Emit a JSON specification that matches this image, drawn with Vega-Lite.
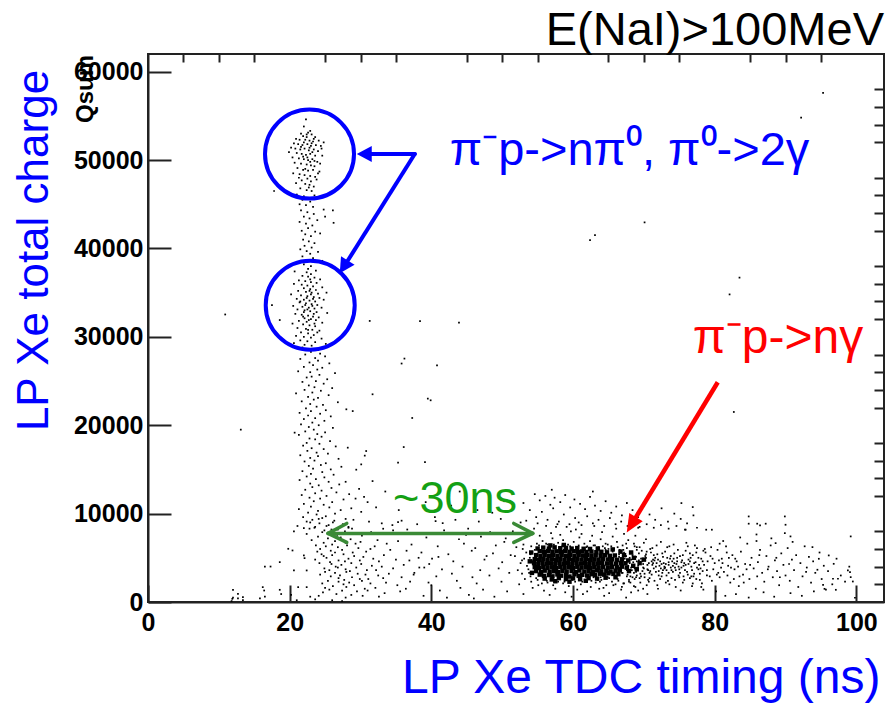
{
"$schema":"https://vega.github.io/schema/vega-lite/v6.json",
"width":736,"height":548,
"autosize":{"type":"none"},
"padding":{"left":148,"top":54,"right":1,"bottom":102},
"background":"white",
"config":{"view":{"stroke":"#222","strokeWidth":2},"font":"Liberation Sans"},
"resolve":{"scale":{"x":"shared","y":"shared"},"axis":{"x":"independent","y":"independent"}},
"datasets":{
"pts":[
{"x":22.3,"y":54600},{"x":22.0,"y":53800},{"x":21.6,"y":53000},{"x":22.6,"y":53100},{"x":23.1,"y":52900},{"x":21.9,"y":52700},{"x":22.4,"y":52600},{"x":23.6,"y":52600},{"x":20.9,"y":52400},{"x":21.4,"y":52300},{"x":22.2,"y":52300},{"x":22.8,"y":52200},{"x":23.3,"y":52100},{"x":24.1,"y":52200},{"x":24.8,"y":52000},{"x":20.6,"y":51900},{"x":21.2,"y":51800},{"x":21.8,"y":51700},{"x":22.5,"y":51800},{"x":23.0,"y":51600},{"x":23.7,"y":51700},{"x":24.4,"y":51600},{"x":20.2,"y":51400},{"x":20.8,"y":51300},{"x":21.5,"y":51200},{"x":22.1,"y":51300},{"x":22.7,"y":51100},{"x":23.4,"y":51200},{"x":24.0,"y":51000},{"x":19.9,"y":50900},{"x":21.0,"y":50800},{"x":21.7,"y":50700},{"x":22.3,"y":50600},{"x":22.9,"y":50700},{"x":23.6,"y":50500},{"x":24.6,"y":50500},{"x":21.3,"y":50200},{"x":22.0,"y":50100},{"x":22.6,"y":50000},{"x":23.2,"y":50100},{"x":23.9,"y":49800},{"x":20.7,"y":49700},{"x":21.6,"y":49600},{"x":22.4,"y":49500},{"x":23.0,"y":49400},{"x":23.5,"y":49300},{"x":24.3,"y":49600},{"x":21.1,"y":49100},{"x":21.9,"y":48900},{"x":22.6,"y":48800},{"x":23.3,"y":48900},{"x":24.2,"y":48700},{"x":20.5,"y":48500},{"x":21.4,"y":48400},{"x":22.1,"y":48300},{"x":22.9,"y":48200},{"x":23.6,"y":48100},{"x":22.5,"y":47900},{"x":21.7,"y":47700},{"x":23.0,"y":47600},{"x":23.8,"y":47800},{"x":20.9,"y":47400},{"x":22.2,"y":47300},{"x":22.8,"y":47200},{"x":23.4,"y":47000},{"x":21.5,"y":46800},{"x":22.4,"y":46600},{"x":23.1,"y":46500},{"x":19.6,"y":46300},{"x":21.0,"y":46100},{"x":22.0,"y":45900},{"x":22.7,"y":45700},{"x":23.5,"y":46000},{"x":21.8,"y":45500},{"x":22.9,"y":45300},{"x":21.4,"y":45000},{"x":22.3,"y":44900},{"x":23.3,"y":44700},{"x":24.8,"y":44400},
{"x":22.9,"y":53300},{"x":23.4,"y":52400},{"x":22.0,"y":52000},{"x":21.6,"y":51500},{"x":22.8,"y":51400},{"x":23.2,"y":50900},{"x":22.5,"y":50300},{"x":21.9,"y":50400},{"x":23.5,"y":49900},{"x":22.2,"y":49000},{"x":22.9,"y":49800},{"x":21.3,"y":48000},{"x":23.1,"y":51900},{"x":22.4,"y":52900},{"x":24.5,"y":51300},{"x":20.4,"y":50300},{"x":24.0,"y":48500},{"x":22.7,"y":46900},
{"x":21.6,"y":44300},{"x":22.5,"y":44100},{"x":23.4,"y":43900},{"x":22.0,"y":43600},{"x":22.8,"y":43400},{"x":23.9,"y":43200},{"x":21.4,"y":43000},{"x":22.3,"y":42800},{"x":23.2,"y":42600},{"x":26.2,"y":42900},{"x":22.6,"y":42300},{"x":21.7,"y":42000},{"x":23.6,"y":41900},{"x":22.2,"y":41600},{"x":23.0,"y":41400},{"x":24.3,"y":41700},{"x":21.9,"y":41000},{"x":22.7,"y":40800},{"x":23.5,"y":40600},{"x":22.1,"y":40300},{"x":23.1,"y":40100},{"x":21.5,"y":39900},{"x":22.4,"y":39700},{"x":24.0,"y":39600},{"x":22.9,"y":39400},{"x":21.8,"y":39100},{"x":23.3,"y":38900},{"x":22.5,"y":38700},{"x":24.6,"y":38600},{"x":21.2,"y":38400},{"x":22.0,"y":38200},{"x":23.0,"y":38000},{"x":22.6,"y":37700},{"x":23.7,"y":37500},{"x":20.7,"y":37400},{"x":25.0,"y":43600},
{"x":22.4,"y":37300},{"x":23.0,"y":37100},{"x":21.8,"y":36900},{"x":22.6,"y":36800},{"x":23.5,"y":36700},{"x":24.3,"y":36500},{"x":21.3,"y":36400},{"x":22.2,"y":36300},{"x":23.0,"y":36200},{"x":23.8,"y":36100},{"x":20.6,"y":36000},{"x":21.7,"y":35900},{"x":22.5,"y":35800},{"x":23.3,"y":35700},{"x":24.6,"y":35600},{"x":22.0,"y":35500},{"x":22.9,"y":35400},{"x":23.7,"y":35300},{"x":21.2,"y":35200},{"x":22.3,"y":35100},{"x":23.1,"y":35000},{"x":24.0,"y":34900},{"x":25.2,"y":35000},{"x":20.2,"y":34800},{"x":21.6,"y":34700},{"x":22.5,"y":34600},{"x":23.4,"y":34500},{"x":24.2,"y":34400},{"x":21.0,"y":34300},{"x":22.0,"y":34200},{"x":22.8,"y":34100},{"x":23.6,"y":34000},{"x":24.8,"y":34200},{"x":21.4,"y":33900},{"x":22.3,"y":33800},{"x":23.1,"y":33700},{"x":23.9,"y":33600},{"x":17.5,"y":33600},{"x":20.5,"y":33500},{"x":21.8,"y":33400},{"x":22.7,"y":33300},{"x":23.5,"y":33200},{"x":24.5,"y":33300},{"x":21.1,"y":33100},{"x":22.1,"y":33000},{"x":22.9,"y":32900},{"x":23.8,"y":32800},{"x":25.3,"y":32700},{"x":20.8,"y":32600},{"x":21.7,"y":32500},{"x":22.6,"y":32400},{"x":23.3,"y":32300},{"x":24.1,"y":32200},{"x":22.1,"y":32100},{"x":23.0,"y":32000},{"x":23.7,"y":31900},{"x":18.6,"y":31900},{"x":21.3,"y":31800},{"x":22.4,"y":31700},{"x":24.6,"y":31600},{"x":31.3,"y":31800},{"x":20.4,"y":31500},{"x":21.9,"y":31400},{"x":22.8,"y":31300},{"x":23.6,"y":31200},{"x":21.1,"y":31000},{"x":22.3,"y":30900},{"x":23.2,"y":30800},{"x":24.2,"y":30700},{"x":21.6,"y":30500},{"x":22.6,"y":30400},{"x":23.4,"y":30200},{"x":20.9,"y":30100},{"x":22.0,"y":30000},{"x":23.0,"y":29900},{"x":24.5,"y":29800},{"x":21.5,"y":29600},{"x":22.5,"y":29500},{"x":23.6,"y":29400},{"x":20.6,"y":29300},{"x":22.1,"y":29100},{"x":23.1,"y":29000},{"x":25.1,"y":29200},{"x":21.8,"y":28800},{"x":22.8,"y":28600},{"x":24.0,"y":28500},
{"x":22.2,"y":33600},{"x":22.5,"y":33100},{"x":23.2,"y":33500},{"x":22.0,"y":32800},{"x":23.4,"y":32600},{"x":22.8,"y":35200},{"x":22.4,"y":34400},{"x":23.0,"y":34800},{"x":21.9,"y":32300},{"x":22.7,"y":31900},{"x":23.5,"y":31500},{"x":23.9,"y":30500},{"x":22.9,"y":36500},{"x":23.3,"y":34300},{"x":22.6,"y":30800},{"x":21.5,"y":34000},
{"x":23.0,"y":28300},{"x":24.3,"y":28100},{"x":22.2,"y":28000},{"x":25.0,"y":27800},{"x":23.6,"y":27600},{"x":21.5,"y":27500},{"x":24.0,"y":27300},{"x":22.8,"y":27100},{"x":25.6,"y":27000},{"x":23.3,"y":26800},{"x":22.0,"y":26600},{"x":24.6,"y":26500},{"x":23.9,"y":26300},{"x":21.2,"y":26100},{"x":22.9,"y":26000},{"x":26.4,"y":25900},{"x":24.2,"y":25700},{"x":23.1,"y":25500},{"x":22.4,"y":25400},{"x":25.3,"y":25200},{"x":23.7,"y":25000},{"x":21.8,"y":24900},{"x":24.8,"y":24700},{"x":22.7,"y":24500},{"x":23.5,"y":24300},{"x":26.0,"y":24200},{"x":22.1,"y":24000},{"x":24.4,"y":23900},{"x":23.2,"y":23700},{"x":20.9,"y":23600},{"x":25.5,"y":23400},{"x":22.6,"y":23200},{"x":24.0,"y":23100},{"x":23.4,"y":22900},{"x":21.7,"y":22700},{"x":26.8,"y":22600},{"x":22.9,"y":22400},{"x":24.7,"y":22300},{"x":23.8,"y":22100},{"x":22.3,"y":21900},{"x":25.1,"y":21700},{"x":23.0,"y":21600},{"x":21.4,"y":21400},{"x":24.3,"y":21300},{"x":22.6,"y":21100},{"x":25.8,"y":21000},{"x":23.6,"y":20800},{"x":22.0,"y":20700},{"x":24.9,"y":20500},{"x":23.2,"y":20300},{"x":21.6,"y":20100},{"x":24.1,"y":20000},{"x":22.7,"y":19800},{"x":26.1,"y":19700},{"x":23.4,"y":19500},{"x":22.2,"y":19300},{"x":25.0,"y":19200},{"x":23.9,"y":19000},{"x":21.3,"y":18900},{"x":24.5,"y":18700},{"x":22.8,"y":18500},{"x":23.6,"y":18400},{"x":25.7,"y":18200},{"x":22.4,"y":18000},{"x":24.2,"y":17900},{"x":21.9,"y":17700},{"x":26.5,"y":17600},{"x":23.1,"y":17400},{"x":24.8,"y":17300},{"x":22.5,"y":17100},{"x":23.8,"y":16900},{"x":25.4,"y":16800},{"x":21.5,"y":16600},{"x":24.0,"y":16500},{"x":22.9,"y":16300},{"x":26.9,"y":16200},{"x":23.5,"y":16000},{"x":22.1,"y":15900},{"x":25.1,"y":15700},{"x":24.4,"y":15500},{"x":22.7,"y":15400},{"x":27.3,"y":15300},{"x":23.3,"y":15100},{"x":25.8,"y":15000},{"x":21.8,"y":14800},{"x":24.6,"y":14700},{"x":23.0,"y":14500},{"x":26.2,"y":14400},{"x":22.4,"y":14200},{"x":24.9,"y":14100},{"x":23.7,"y":13900},{"x":21.4,"y":13800},{"x":25.5,"y":13600},{"x":22.9,"y":13400},{"x":27.0,"y":13300},{"x":24.1,"y":13200},{"x":23.2,"y":13000},{"x":25.9,"y":12900},{"x":22.2,"y":12700},{"x":24.5,"y":12600},{"x":26.6,"y":12400},{"x":23.6,"y":12300},{"x":21.7,"y":12100},{"x":25.2,"y":12000},{"x":22.8,"y":11800},{"x":24.3,"y":11700},{"x":27.6,"y":11600},{"x":23.4,"y":11400},{"x":26.0,"y":11300},{"x":22.0,"y":11100},{"x":24.8,"y":11000},{"x":23.0,"y":10800},{"x":25.6,"y":10700},{"x":21.3,"y":10500},{"x":27.2,"y":10400},{"x":24.0,"y":10300},{"x":22.6,"y":10100},{"x":26.4,"y":10000},{"x":23.8,"y":9900},{"x":25.1,"y":9700},{"x":21.9,"y":9600},{"x":24.6,"y":9500},{"x":27.9,"y":9400},{"x":23.2,"y":9300},{"x":22.4,"y":9100},{"x":26.1,"y":9000},{"x":24.2,"y":8900},{"x":25.5,"y":8700},{"x":21.1,"y":8600},{"x":23.6,"y":8500},{"x":28.3,"y":8400},{"x":22.8,"y":8300},{"x":26.8,"y":8200},{"x":24.9,"y":8100},{"x":20.6,"y":8000},
{"x":28.4,"y":12200},{"x":29.3,"y":11700},{"x":30.5,"y":11900},{"x":27.9,"y":13600},{"x":29.8,"y":12800},{"x":31.0,"y":11300},{"x":28.7,"y":10600},{"x":30.1,"y":10200},{"x":32.2,"y":10700},{"x":33.5,"y":12500},
{"x":24.1,"y":9400},{"x":26.3,"y":9200},{"x":29.0,"y":9300},{"x":22.9,"y":9000},{"x":27.5,"y":8800},{"x":31.2,"y":9100},{"x":25.2,"y":8600},{"x":33.0,"y":8900},{"x":28.3,"y":8500},{"x":35.8,"y":9200},
{"x":23.5,"y":8400},{"x":25.9,"y":8200},{"x":27.8,"y":8000},{"x":24.6,"y":7900},{"x":29.4,"y":7800},{"x":22.4,"y":7700},{"x":26.7,"y":7600},{"x":31.5,"y":7900},{"x":30.2,"y":7500},{"x":34.6,"y":8100},{"x":28.8,"y":8300},{"x":37.4,"y":7700},
{"x":24.0,"y":7400},{"x":25.4,"y":7200},{"x":27.2,"y":7300},{"x":23.1,"y":7000},{"x":26.4,"y":6900},{"x":28.6,"y":7100},{"x":30.0,"y":6800},{"x":24.8,"y":6700},{"x":32.4,"y":7000},{"x":29.3,"y":6600},{"x":26.0,"y":6500},{"x":35.3,"y":6900},{"x":27.9,"y":6700},{"x":33.7,"y":6600},
{"x":23.7,"y":6400},{"x":25.1,"y":6300},{"x":26.8,"y":6200},{"x":28.1,"y":6400},{"x":24.3,"y":6000},{"x":27.4,"y":5900},{"x":29.7,"y":6100},{"x":25.8,"y":5800},{"x":30.8,"y":5700},{"x":32.0,"y":6300},{"x":26.4,"y":5600},{"x":28.9,"y":5600},{"x":34.2,"y":5900},{"x":23.9,"y":5700},{"x":31.4,"y":6000},{"x":36.5,"y":5800},
{"x":24.5,"y":5400},{"x":26.0,"y":5300},{"x":27.6,"y":5400},{"x":29.1,"y":5200},{"x":25.2,"y":5000},{"x":28.3,"y":4900},{"x":30.4,"y":5100},{"x":23.6,"y":4800},{"x":26.9,"y":4700},{"x":31.8,"y":4900},{"x":27.8,"y":4600},{"x":33.3,"y":5300},{"x":25.7,"y":4500},{"x":29.9,"y":4700},{"x":35.0,"y":4800},{"x":32.6,"y":4600},{"x":24.8,"y":5200},{"x":38.2,"y":5000},
{"x":24.2,"y":4400},{"x":25.9,"y":4300},{"x":27.3,"y":4200},{"x":28.7,"y":4400},{"x":30.1,"y":4300},{"x":26.5,"y":4000},{"x":29.4,"y":3900},{"x":31.6,"y":4100},{"x":24.9,"y":3800},{"x":27.9,"y":3700},{"x":33.0,"y":4000},{"x":25.6,"y":3600},{"x":28.5,"y":3500},{"x":30.9,"y":3600},{"x":34.6,"y":3800},{"x":26.8,"y":3900},{"x":36.1,"y":4200},{"x":32.2,"y":3600},{"x":39.0,"y":3900},
{"x":25.0,"y":3400},{"x":26.4,"y":3300},{"x":28.0,"y":3400},{"x":29.6,"y":3200},{"x":24.3,"y":3100},{"x":27.1,"y":3000},{"x":30.7,"y":3100},{"x":25.8,"y":2900},{"x":28.8,"y":2800},{"x":32.5,"y":3000},{"x":26.9,"y":2700},{"x":31.1,"y":2600},{"x":34.0,"y":3200},{"x":27.7,"y":2500},{"x":29.9,"y":2600},{"x":35.8,"y":2800},{"x":33.2,"y":2700},{"x":37.6,"y":3300},
{"x":25.4,"y":2400},{"x":26.9,"y":2300},{"x":28.4,"y":2200},{"x":30.2,"y":2400},{"x":24.6,"y":2100},{"x":27.6,"y":2000},{"x":31.4,"y":2100},{"x":26.1,"y":1800},{"x":29.1,"y":1900},{"x":33.6,"y":2200},{"x":28.0,"y":1700},{"x":32.1,"y":1600},{"x":25.0,"y":1600},{"x":35.2,"y":1900},{"x":30.6,"y":1500},{"x":37.0,"y":2300},
{"x":25.6,"y":1400},{"x":27.4,"y":1300},{"x":29.5,"y":1200},{"x":24.7,"y":1100},{"x":31.0,"y":1300},{"x":26.6,"y":900},{"x":28.7,"y":800},{"x":33.4,"y":1000},{"x":30.3,"y":700},{"x":35.6,"y":1200},{"x":27.9,"y":500},{"x":24.1,"y":700},{"x":32.6,"y":600},
{"x":12.0,"y":500},{"x":12.7,"y":400},{"x":11.8,"y":100},{"x":13.4,"y":200},{"x":16.5,"y":600},{"x":15.8,"y":400},{"x":18.8,"y":900},{"x":20.2,"y":800},{"x":22.9,"y":600},{"x":21.0,"y":200},{"x":23.6,"y":300},{"x":26.0,"y":200},{"x":27.4,"y":100},
{"x":16.5,"y":4010},{"x":17.3,"y":4010},{"x":18.6,"y":4510},{"x":19.8,"y":6020},{"x":20.4,"y":5830},{"x":20.6,"y":3570},{"x":22.4,"y":3570},{"x":22.0,"y":5270},{"x":21.2,"y":1680},{"x":22.4,"y":1680},{"x":16.2,"y":1680},{"x":16.4,"y":1300},{"x":18.6,"y":1380},{"x":12.0,"y":1380},{"x":12.7,"y":930},{"x":13.4,"y":540},{"x":11.9,"y":360},{"x":22.0,"y":8360},{"x":22.1,"y":4960},
{"x":38.0,"y":8800},{"x":40.5,"y":9600},{"x":43.4,"y":9300},{"x":46.7,"y":9100},{"x":49.8,"y":9400},{"x":52.6,"y":9000},{"x":36.6,"y":8200},{"x":41.8,"y":8100},{"x":45.2,"y":8300},{"x":48.3,"y":7900},{"x":51.5,"y":8000},{"x":39.3,"y":7300},{"x":43.9,"y":7100},{"x":47.0,"y":7400},{"x":50.5,"y":7200},{"x":53.3,"y":7500},{"x":37.2,"y":6500},{"x":40.9,"y":6300},{"x":44.6,"y":6600},{"x":46.2,"y":6100},{"x":49.1,"y":6400},{"x":52.0,"y":6200},{"x":38.6,"y":5600},{"x":42.4,"y":5400},{"x":45.7,"y":5800},{"x":48.7,"y":5500},{"x":51.2,"y":5300},{"x":36.9,"y":4700},{"x":40.1,"y":4900},{"x":43.1,"y":4600},{"x":47.5,"y":4800},{"x":50.0,"y":4500},{"x":52.8,"y":4700},{"x":38.3,"y":3900},{"x":41.5,"y":3700},{"x":44.4,"y":4000},{"x":46.9,"y":3600},{"x":49.5,"y":3800},{"x":37.5,"y":3100},{"x":40.7,"y":2900},{"x":42.9,"y":3200},{"x":45.8,"y":2800},{"x":48.2,"y":3000},{"x":51.0,"y":3300},{"x":39.6,"y":2200},{"x":43.6,"y":2400},{"x":46.4,"y":2100},{"x":49.9,"y":2300},{"x":52.4,"y":2000},{"x":36.4,"y":1500},{"x":41.2,"y":1300},{"x":44.1,"y":1600},{"x":47.3,"y":1400},{"x":50.7,"y":1200},{"x":38.9,"y":700},{"x":42.2,"y":500},{"x":45.3,"y":800},{"x":48.9,"y":600},{"x":53.0,"y":900},{"x":40.0,"y":1900},{"x":47.8,"y":5200},{"x":44.9,"y":7600},{"x":41.0,"y":5100},{"x":39.7,"y":4300},{"x":50.3,"y":6800},{"x":46.0,"y":400},{"x":34.5,"y":8700},{"x":35.4,"y":10400},{"x":42.8,"y":10900},{"x":39.2,"y":11300},{"x":48.6,"y":10100},{"x":33.2,"y":8290},{"x":35.3,"y":9040},{"x":40.6,"y":9150},{"x":41.6,"y":8920},{"x":46.5,"y":10400},{"x":50.3,"y":11400},{"x":44.0,"y":12500},
{"x":53.2,"y":2600},{"x":54.1,"y":2300},{"x":54.8,"y":2700},{"x":55.6,"y":2100},{"x":56.3,"y":2400},{"x":57.2,"y":1900},{"x":57.9,"y":2300},{"x":58.6,"y":2100},{"x":59.4,"y":1800},{"x":60.3,"y":2300},{"x":61.1,"y":2000},{"x":61.8,"y":2400},{"x":62.5,"y":1700},{"x":63.2,"y":2200},{"x":64.0,"y":2500},{"x":64.7,"y":1900},{"x":65.5,"y":2300},{"x":66.3,"y":2600},{"x":67.1,"y":2100},{"x":67.9,"y":2500},{"x":68.6,"y":1800},{"x":69.5,"y":2200},{"x":54.3,"y":1600},{"x":55.9,"y":1300},{"x":57.5,"y":1500},{"x":58.9,"y":1100},{"x":60.6,"y":1400},{"x":62.0,"y":1200},{"x":63.7,"y":1500},{"x":65.1,"y":1000},{"x":66.8,"y":1400},{"x":68.2,"y":1100},{"x":69.9,"y":1500},{"x":56.7,"y":800},{"x":59.8,"y":600},{"x":61.4,"y":900},{"x":64.4,"y":700},{"x":67.5,"y":500},{"x":70.5,"y":900},{"x":55.1,"y":1900},{"x":58.1,"y":2600},{"x":60.9,"y":2700},{"x":62.9,"y":2800},{"x":64.9,"y":2800},{"x":66.0,"y":2000},{"x":68.9,"y":2800},{"x":53.8,"y":3300},{"x":53.5,"y":4100},{"x":53.9,"y":5000},{"x":53.4,"y":5600},{"x":52.6,"y":4400},{"x":52.2,"y":3600},{"x":51.8,"y":5200},{"x":52.9,"y":6000},{"x":54.1,"y":6300},
{"x":54.9,"y":6600},{"x":55.7,"y":6900},{"x":56.4,"y":6500},{"x":57.1,"y":7200},{"x":57.9,"y":6700},{"x":58.6,"y":7000},{"x":59.3,"y":6500},{"x":60.1,"y":6800},{"x":60.9,"y":7300},{"x":61.6,"y":6600},{"x":62.4,"y":6900},{"x":63.1,"y":6400},{"x":63.9,"y":7100},{"x":64.6,"y":6600},{"x":65.4,"y":6300},{"x":66.2,"y":6800},{"x":67.0,"y":6400},{"x":67.8,"y":7000},{"x":68.6,"y":6600},{"x":69.4,"y":6200},{"x":55.3,"y":7500},{"x":56.9,"y":7800},{"x":58.2,"y":7600},{"x":59.7,"y":8000},{"x":61.2,"y":7700},{"x":62.7,"y":7500},{"x":64.1,"y":7900},{"x":65.6,"y":7400},{"x":67.2,"y":7700},{"x":68.8,"y":7500},{"x":70.3,"y":7100},{"x":62.0,"y":6300},{"x":63.6,"y":6200},{"x":65.0,"y":6000},{"x":66.6,"y":5900},{"x":67.6,"y":6100},{"x":68.3,"y":5600},{"x":69.0,"y":5900},{"x":54.5,"y":8300},{"x":57.6,"y":8500},{"x":60.4,"y":8200},{"x":63.0,"y":8600},{"x":66.1,"y":8300},{"x":69.2,"y":8400},
{"x":66.5,"y":5400},{"x":67.0,"y":3300},{"x":67.3,"y":4900},{"x":67.6,"y":2900},{"x":67.8,"y":4100},{"x":68.1,"y":5600},{"x":68.3,"y":3600},{"x":68.5,"y":4500},{"x":68.7,"y":2600},{"x":68.9,"y":5100},{"x":69.1,"y":3900},{"x":69.3,"y":4700},{"x":69.5,"y":3200},{"x":69.7,"y":5800},{"x":69.9,"y":4300},{"x":70.1,"y":2800},{"x":70.3,"y":5000},{"x":70.5,"y":3700},{"x":70.7,"y":4400},{"x":70.9,"y":6000},{"x":71.1,"y":3100},{"x":71.3,"y":4800},{"x":71.5,"y":2400},{"x":71.7,"y":4000},{"x":71.9,"y":5400},{"x":72.1,"y":3500},{"x":72.3,"y":4600},{"x":72.5,"y":2900},{"x":72.7,"y":5100},{"x":72.9,"y":3800},{"x":73.1,"y":4300},{"x":73.3,"y":6200},{"x":73.5,"y":3300},{"x":73.7,"y":4900},{"x":73.9,"y":2700},{"x":74.1,"y":4100},{"x":74.3,"y":5500},{"x":74.5,"y":3600},{"x":74.7,"y":4600},{"x":74.9,"y":3000},{"x":75.1,"y":5200},{"x":75.3,"y":3900},{"x":75.5,"y":2200},{"x":75.7,"y":4400},{"x":75.9,"y":5800},{"x":76.1,"y":3400},{"x":76.3,"y":4800},{"x":76.5,"y":2700},{"x":76.7,"y":4000},{"x":76.9,"y":5300},{"x":77.1,"y":3200},{"x":77.3,"y":4500},{"x":77.5,"y":6100},{"x":77.7,"y":3700},{"x":77.9,"y":2500},{"x":78.1,"y":4900},{"x":78.3,"y":3500},{"x":78.5,"y":4200},{"x":78.7,"y":5600},{"x":78.9,"y":3000},
{"x":66.7,"y":4200},{"x":67.1,"y":5900},{"x":67.4,"y":3800},{"x":67.9,"y":2300},{"x":68.2,"y":4800},{"x":68.6,"y":3300},{"x":69.0,"y":6200},{"x":69.4,"y":2700},{"x":69.8,"y":3500},{"x":70.2,"y":4700},{"x":70.6,"y":2500},{"x":71.0,"y":5600},{"x":71.4,"y":3800},{"x":71.8,"y":6400},{"x":72.2,"y":4100},{"x":72.6,"y":3300},{"x":73.0,"y":5700},{"x":73.4,"y":2400},{"x":73.8,"y":3900},{"x":74.2,"y":6500},{"x":74.6,"y":4300},{"x":75.0,"y":2800},{"x":75.4,"y":4700},{"x":75.8,"y":3600},{"x":76.2,"y":6300},{"x":76.6,"y":5000},{"x":77.0,"y":2900},{"x":77.4,"y":5600},{"x":77.8,"y":4200},{"x":78.2,"y":2100},{"x":78.6,"y":6000},{"x":79.0,"y":4600},{"x":67.2,"y":2100},{"x":68.8,"y":1700},{"x":70.4,"y":1900},{"x":72.0,"y":1500},{"x":73.6,"y":2000},{"x":75.2,"y":1300},{"x":76.8,"y":1800},{"x":78.4,"y":1400},{"x":79.6,"y":2400},{"x":79.8,"y":3700},{"x":79.4,"y":5200},{"x":80.0,"y":4400},
{"x":66.4,"y":4600},{"x":66.8,"y":3600},{"x":67.5,"y":5200},{"x":67.7,"y":3900},{"x":68.0,"y":4400},{"x":68.4,"y":5300},{"x":68.9,"y":3400},{"x":69.2,"y":4100},{"x":69.6,"y":4900},{"x":70.0,"y":3800},{"x":70.3,"y":5400},{"x":70.8,"y":3300},{"x":71.2,"y":4200},{"x":71.6,"y":5000},{"x":72.4,"y":3800},{"x":72.8,"y":4400},{"x":73.2,"y":3600},{"x":74.0,"y":4600},{"x":74.4,"y":3900},{"x":75.6,"y":4100},
{"x":62.3,"y":6100},{"x":63.5,"y":2500},{"x":64.2,"y":6300},{"x":65.1,"y":2700},{"x":65.8,"y":6000},{"x":66.4,"y":2400},{"x":64.6,"y":5900},{"x":63.9,"y":2800},{"x":62.9,"y":6400},{"x":61.7,"y":2500},{"x":67.3,"y":4400},{"x":67.7,"y":3100},{"x":68.0,"y":5000},{"x":68.4,"y":2800},{"x":68.7,"y":3800},{"x":69.0,"y":4600},{"x":69.3,"y":5500},{"x":69.6,"y":2900},{"x":69.9,"y":3900},{"x":70.2,"y":5200},{"x":70.5,"y":4200},{"x":70.8,"y":2700},{"x":71.1,"y":4600},{"x":71.4,"y":5300},{"x":71.7,"y":3400},{"x":72.0,"y":4800},{"x":72.3,"y":2600},{"x":72.6,"y":5500},{"x":72.9,"y":4000},{"x":73.2,"y":3000},{"x":73.5,"y":4500},{"x":73.8,"y":5200},{"x":74.1,"y":3400},{"x":74.4,"y":2500},{"x":74.7,"y":5000},{"x":75.0,"y":3700},{"x":75.3,"y":4500},{"x":75.6,"y":2900},{"x":75.9,"y":4200},{"x":76.2,"y":3100},{"x":76.5,"y":5500},{"x":76.8,"y":3600},{"x":77.1,"y":4400},{"x":77.4,"y":2600},{"x":77.7,"y":5000},{"x":78.0,"y":3800},{"x":68.2,"y":3900},{"x":69.4,"y":4300},{"x":70.6,"y":3600},{"x":71.8,"y":4400},{"x":73.0,"y":3900},{"x":74.2,"y":4900},{"x":67.0,"y":4700},{"x":66.6,"y":3900},
{"x":54.0,"y":2900},{"x":53.7,"y":3700},{"x":54.2,"y":4700},{"x":54.0,"y":5400},{"x":54.6,"y":5900},{"x":55.2,"y":6400},{"x":56.2,"y":6600},{"x":57.3,"y":6500},{"x":58.5,"y":6400},{"x":59.6,"y":6300},{"x":60.8,"y":6400},{"x":61.9,"y":6200},{"x":55.0,"y":2500},{"x":56.4,"y":2200},{"x":57.6,"y":2400},{"x":58.8,"y":2300},{"x":59.9,"y":2500},{"x":61.3,"y":2300},{"x":62.6,"y":2400},{"x":63.8,"y":2300},{"x":53.1,"y":4900},{"x":52.8,"y":3200},{"x":53.0,"y":6500},{"x":64.5,"y":6100},{"x":65.6,"y":5700},{"x":66.5,"y":5100},{"x":67.2,"y":5600},{"x":66.9,"y":3300},{"x":67.6,"y":3600},{"x":65.9,"y":2900},
{"x":64.3,"y":1600},{"x":65.7,"y":1900},{"x":66.9,"y":1700},{"x":68.1,"y":2200},{"x":69.2,"y":1300},{"x":70.7,"y":2300},{"x":71.9,"y":1900},{"x":73.1,"y":2200},{"x":74.5,"y":1700},{"x":75.7,"y":2500},{"x":76.9,"y":2100},{"x":78.1,"y":1700},{"x":79.3,"y":2900},{"x":80.5,"y":3300},{"x":81.1,"y":4400},{"x":81.7,"y":5600},{"x":82.3,"y":3900},{"x":82.9,"y":4900},{"x":83.5,"y":2900},{"x":64.9,"y":6500},{"x":66.3,"y":6200},{"x":67.5,"y":6600},{"x":68.7,"y":6300},{"x":70.0,"y":6700},{"x":71.2,"y":6100},{"x":72.4,"y":6800},{"x":73.6,"y":6300},{"x":74.8,"y":5900},{"x":76.0,"y":6700},{"x":77.2,"y":6400},{"x":78.4,"y":5800},{"x":79.5,"y":6200},{"x":80.7,"y":6600},{"x":70.9,"y":3500},{"x":71.3,"y":4400},{"x":72.1,"y":3000},{"x":72.5,"y":4300},{"x":73.3,"y":5000},{"x":73.9,"y":3600},{"x":74.3,"y":4400},{"x":75.1,"y":3300},{"x":75.5,"y":5300},{"x":76.3,"y":4300},{"x":76.7,"y":2900},{"x":77.5,"y":3900},{"x":78.3,"y":4600},{"x":78.9,"y":3600},{"x":79.7,"y":4900},{"x":80.3,"y":3100},{"x":69.0,"y":3000},{"x":69.8,"y":4600},{"x":70.4,"y":5700},{"x":68.6,"y":4000},{"x":67.4,"y":4300},{"x":68.1,"y":2900},{"x":70.1,"y":3200},{"x":71.5,"y":4700},{"x":72.7,"y":3600},{"x":73.5,"y":4200},{"x":74.9,"y":4000},{"x":76.5,"y":4600},{"x":77.9,"y":3200},
{"x":80.4,"y":5900},{"x":80.7,"y":2800},{"x":81.0,"y":4900},{"x":81.3,"y":3400},{"x":81.6,"y":6300},{"x":81.9,"y":4100},{"x":82.2,"y":2200},{"x":82.5,"y":5300},{"x":82.8,"y":3700},{"x":83.1,"y":4600},{"x":83.4,"y":1800},{"x":83.7,"y":5700},{"x":84.0,"y":3100},{"x":84.3,"y":4300},{"x":84.6,"y":6600},{"x":84.9,"y":2600},{"x":85.2,"y":5000},{"x":85.5,"y":3800},{"x":85.8,"y":1500},{"x":86.1,"y":4500},{"x":86.4,"y":5900},{"x":86.7,"y":3300},{"x":87.0,"y":2300},{"x":87.3,"y":5200},{"x":87.6,"y":4000},{"x":87.9,"y":6400},{"x":88.2,"y":2800},{"x":88.5,"y":4700},{"x":88.8,"y":3500},{"x":89.1,"y":1900},{"x":89.4,"y":5500},{"x":89.7,"y":4200},{"x":90.0,"y":3000},{"x":90.3,"y":6100},{"x":90.6,"y":2400},{"x":90.9,"y":4800},{"x":91.2,"y":3600},{"x":91.5,"y":5300},{"x":91.8,"y":1700},{"x":92.1,"y":4400},{"x":92.4,"y":2900},{"x":92.7,"y":6300},{"x":93.0,"y":3900},{"x":93.3,"y":5100},{"x":93.6,"y":2200},{"x":93.9,"y":4600},{"x":94.2,"y":3300},{"x":94.8,"y":5600},{"x":95.1,"y":2600},{"x":95.4,"y":4100},{"x":95.7,"y":1400},{"x":96.0,"y":3500},{"x":96.6,"y":2000},{"x":97.2,"y":4900},{"x":97.8,"y":3000},{"x":98.4,"y":2300},{"x":99.0,"y":4000},{"x":80.2,"y":1200},{"x":81.5,"y":700},{"x":83.0,"y":900},{"x":84.8,"y":500},{"x":86.9,"y":1100},{"x":88.4,"y":600},{"x":90.7,"y":1000},{"x":92.3,"y":700},{"x":94.0,"y":1200},{"x":81.2,"y":6900},{"x":83.6,"y":7300},{"x":85.9,"y":6900},{"x":88.0,"y":7200},{"x":91.0,"y":6800},{"x":80.9,"y":3900},{"x":82.0,"y":5000},{"x":82.7,"y":2600},{"x":84.5,"y":3700},{"x":85.0,"y":4200},{"x":86.0,"y":2900},{"x":87.5,"y":3700},{"x":89.2,"y":2800},{"x":90.5,"y":4300},{"x":92.9,"y":3400},{"x":80.6,"y":4700},{"x":81.8,"y":3000},{"x":83.3,"y":4000},{"x":84.1,"y":2200},{"x":86.3,"y":5300},{"x":88.7,"y":5000},
{"x":99.2,"y":7420},{"x":96.1,"y":5270},{"x":93.8,"y":6210},{"x":84.8,"y":9680},{"x":84.8,"y":8860},{"x":89.9,"y":9680},{"x":90.0,"y":8740},{"x":89.9,"y":7790},{"x":90.7,"y":7420},{"x":86.0,"y":8860},{"x":86.4,"y":8660},{"x":87.2,"y":8860},{"x":85.9,"y":7640},{"x":78.8,"y":8180},{"x":79.6,"y":8180},{"x":76.9,"y":10740},{"x":75.3,"y":11190},{"x":75.9,"y":8180},{"x":88.6,"y":6660},{"x":98.8,"y":3570},{"x":99.1,"y":3380},{"x":99.8,"y":480},{"x":96.7,"y":2630},{"x":97.4,"y":2630},{"x":99.2,"y":2810},{"x":99.5,"y":2320},{"x":97.1,"y":1380},{"x":95.3,"y":1950},{"x":95.5,"y":1490},{"x":94.7,"y":4890},{"x":94.5,"y":3650},{"x":96.8,"y":4320},
{"x":54.6,"y":12200},{"x":55.3,"y":11500},{"x":56.1,"y":12000},{"x":56.8,"y":11000},{"x":57.4,"y":11800},{"x":58.2,"y":11300},{"x":58.9,"y":12100},{"x":59.6,"y":10700},{"x":60.2,"y":11600},{"x":61.0,"y":11100},{"x":61.7,"y":10500},{"x":62.4,"y":11900},{"x":63.1,"y":10900},{"x":63.9,"y":10300},{"x":64.6,"y":11400},{"x":65.4,"y":10100},{"x":66.1,"y":10800},{"x":66.9,"y":9800},{"x":67.6,"y":11200},{"x":68.4,"y":10400},{"x":69.2,"y":9600},{"x":70.0,"y":10900},{"x":70.8,"y":9900},{"x":71.6,"y":9300},{"x":72.5,"y":10600},{"x":73.4,"y":9100},{"x":74.3,"y":10000},{"x":75.2,"y":9400},{"x":76.1,"y":8900},{"x":77.0,"y":9800},{"x":53.9,"y":10400},{"x":54.8,"y":9600},{"x":55.6,"y":10200},{"x":56.4,"y":9300},{"x":57.2,"y":10600},{"x":58.0,"y":9100},{"x":58.7,"y":9900},{"x":59.5,"y":8800},{"x":60.3,"y":9500},{"x":61.2,"y":8700},{"x":62.0,"y":9700},{"x":62.8,"y":8900},{"x":63.6,"y":9300},{"x":64.4,"y":8600},{"x":65.2,"y":9500},{"x":66.0,"y":8800},{"x":66.8,"y":9100},{"x":67.7,"y":8600},{"x":68.5,"y":9000},{"x":69.4,"y":8500},{"x":70.4,"y":8800},{"x":71.4,"y":8400},{"x":72.4,"y":8700},{"x":73.5,"y":8300},{"x":74.6,"y":8600},{"x":75.8,"y":8200},{"x":77.5,"y":8400},{"x":55.0,"y":8900},{"x":56.2,"y":8600},{"x":57.8,"y":8800},{"x":59.1,"y":8500},{"x":60.8,"y":9000},{"x":53.4,"y":9200},{"x":53.0,"y":11200},{"x":57.0,"y":12700},{"x":62.8,"y":12500},
{"x":95.3,"y":57600},{"x":92.2,"y":54800},{"x":70.1,"y":42950},{"x":63.1,"y":41500},{"x":62.4,"y":40950},{"x":83.5,"y":36700},{"x":82.1,"y":34800},{"x":38.4,"y":31770},{"x":43.9,"y":31620},{"x":36.2,"y":27540},{"x":35.8,"y":26980},{"x":40.8,"y":26780},{"x":39.5,"y":23010},{"x":39.9,"y":22820},{"x":37.3,"y":20820},{"x":82.7,"y":21500},{"x":36.1,"y":17530},{"x":35.3,"y":15760},{"x":39.1,"y":15830},{"x":10.9,"y":32530},{"x":13.1,"y":19500},{"x":31.7,"y":23500},{"x":28.0,"y":21800},{"x":28.9,"y":21600},{"x":28.2,"y":17460},{"x":30.8,"y":17080},{"x":30.6,"y":16560},{"x":30.1,"y":15570},{"x":29.4,"y":14970},{"x":31.7,"y":13680},{"x":20.7,"y":19160},{"x":26.1,"y":44300},{"x":17.8,"y":46500}
],
"core":[
{"x":55.3,"y":3100},{"x":55.9,"y":2950},{"x":56.6,"y":3050},{"x":57.1,"y":2900},{"x":57.8,"y":3120},{"x":58.3,"y":2980},{"x":59.0,"y":3060},{"x":59.5,"y":2880},{"x":60.2,"y":3140},{"x":60.8,"y":2960},{"x":61.3,"y":3080},{"x":62.0,"y":3000},{"x":62.6,"y":3150},{"x":63.1,"y":3050},{"x":63.8,"y":3200},{"x":64.4,"y":3100},{"x":65.0,"y":3250},{"x":65.7,"y":3180},
{"x":54.8,"y":3500},{"x":55.5,"y":3400},{"x":56.0,"y":3550},{"x":56.7,"y":3420},{"x":57.3,"y":3480},{"x":57.9,"y":3380},{"x":58.5,"y":3530},{"x":59.1,"y":3440},{"x":59.8,"y":3500},{"x":60.4,"y":3400},{"x":60.9,"y":3560},{"x":61.6,"y":3450},{"x":62.2,"y":3520},{"x":62.8,"y":3430},{"x":63.4,"y":3580},{"x":64.0,"y":3470},{"x":64.7,"y":3540},{"x":65.3,"y":3460},{"x":66.0,"y":3550},{"x":66.6,"y":3600},
{"x":54.6,"y":3950},{"x":55.2,"y":3850},{"x":55.8,"y":3980},{"x":56.4,"y":3870},{"x":57.0,"y":3930},{"x":57.6,"y":3820},{"x":58.2,"y":3960},{"x":58.8,"y":3880},{"x":59.4,"y":3940},{"x":60.0,"y":3850},{"x":60.6,"y":3990},{"x":61.2,"y":3900},{"x":61.8,"y":3960},{"x":62.4,"y":3860},{"x":63.0,"y":3940},{"x":63.6,"y":3880},{"x":64.2,"y":3970},{"x":64.9,"y":3900},{"x":65.5,"y":3980},{"x":66.2,"y":3920},{"x":66.9,"y":4000},
{"x":54.5,"y":4400},{"x":55.1,"y":4300},{"x":55.7,"y":4420},{"x":56.3,"y":4330},{"x":56.9,"y":4380},{"x":57.5,"y":4290},{"x":58.1,"y":4410},{"x":58.7,"y":4320},{"x":59.3,"y":4390},{"x":59.9,"y":4300},{"x":60.5,"y":4430},{"x":61.1,"y":4340},{"x":61.7,"y":4400},{"x":62.3,"y":4310},{"x":62.9,"y":4380},{"x":63.5,"y":4330},{"x":64.1,"y":4420},{"x":64.8,"y":4350},{"x":65.4,"y":4400},{"x":66.1,"y":4330},{"x":66.8,"y":4410},{"x":67.4,"y":4380},
{"x":54.6,"y":4850},{"x":55.2,"y":4760},{"x":55.8,"y":4870},{"x":56.4,"y":4780},{"x":57.0,"y":4830},{"x":57.6,"y":4740},{"x":58.2,"y":4860},{"x":58.8,"y":4770},{"x":59.4,"y":4840},{"x":60.0,"y":4750},{"x":60.6,"y":4880},{"x":61.2,"y":4790},{"x":61.8,"y":4850},{"x":62.4,"y":4760},{"x":63.0,"y":4830},{"x":63.6,"y":4780},{"x":64.2,"y":4860},{"x":64.9,"y":4800},{"x":65.5,"y":4840},{"x":66.2,"y":4770},{"x":66.9,"y":4830},
{"x":54.8,"y":5300},{"x":55.4,"y":5200},{"x":56.0,"y":5320},{"x":56.6,"y":5230},{"x":57.2,"y":5280},{"x":57.8,"y":5190},{"x":58.4,"y":5310},{"x":59.0,"y":5220},{"x":59.6,"y":5290},{"x":60.2,"y":5200},{"x":60.8,"y":5330},{"x":61.4,"y":5240},{"x":62.0,"y":5300},{"x":62.6,"y":5210},{"x":63.2,"y":5270},{"x":63.9,"y":5230},{"x":64.5,"y":5290},{"x":65.2,"y":5220},{"x":65.9,"y":5260},
{"x":55.3,"y":5750},{"x":55.9,"y":5650},{"x":56.5,"y":5770},{"x":57.1,"y":5680},{"x":57.7,"y":5730},{"x":58.3,"y":5640},{"x":58.9,"y":5760},{"x":59.5,"y":5670},{"x":60.1,"y":5740},{"x":60.7,"y":5650},{"x":61.3,"y":5720},{"x":61.9,"y":5660},{"x":62.6,"y":5700},{"x":63.3,"y":5630},{"x":64.0,"y":5680},{"x":64.8,"y":5620},
{"x":55.8,"y":6150},{"x":56.6,"y":6050},{"x":57.4,"y":6180},{"x":58.2,"y":6080},{"x":59.0,"y":6120},{"x":59.8,"y":6040},{"x":60.6,"y":6100},{"x":61.5,"y":6020},
{"x":56.0,"y":2650},{"x":57.0,"y":2550},{"x":58.0,"y":2700},{"x":59.0,"y":2600},{"x":60.0,"y":2680},{"x":61.0,"y":2580},{"x":62.2,"y":2700},{"x":63.4,"y":2650},
{"x":67.8,"y":4700},{"x":68.5,"y":4100},{"x":67.9,"y":3500},{"x":68.6,"y":5000},{"x":67.2,"y":5300},{"x":66.7,"y":5700},{"x":65.6,"y":5950},{"x":63.5,"y":6050},{"x":62.4,"y":6000},{"x":54.2,"y":3300},{"x":53.9,"y":4600},{"x":54.1,"y":5600},{"x":55.0,"y":6050},{"x":56.8,"y":6400},{"x":58.7,"y":6450},{"x":57.5,"y":2350},{"x":59.5,"y":2300},{"x":61.8,"y":2400},{"x":64.6,"y":2750},{"x":66.4,"y":3150},{"x":67.6,"y":3900},{"x":69.4,"y":4400},{"x":69.0,"y":3700},{"x":66.0,"y":2800},{"x":68.2,"y":5600},{"x":70.0,"y":4800}
],
"circ":[{"x":22.8,"y":50680},{"x":22.9,"y":33580}],
"arrows":[
{"g":"pi0","x":37.66,"y":50680,"x2":30.88,"y2":50680},
{"g":"pi0","x":37.66,"y":50680,"x2":27.83,"y2":38150},
{"g":"gamma","x":80.43,"y":24860,"x2":68.31,"y2":8840},
{"g":"dt","x":25.42,"y":7760,"x2":54.31,"y2":7760},
{"g":"dt","x":25.42,"y":7760,"x2":28.06,"y2":8890},
{"g":"dt","x":25.42,"y":7760,"x2":28.06,"y2":6740},
{"g":"dt","x":54.31,"y":7760,"x2":51.63,"y2":8890},
{"g":"dt","x":54.31,"y":7760,"x2":51.63,"y2":6740}
],
"heads":[
{"g":"pi0","x":29.47,"y":50680,"deg":270},
{"g":"pi0","x":27.07,"y":37200,"deg":212.4},
{"g":"gamma","x":67.58,"y":7870,"deg":211.3}
],
"labels":[
{"g":"pi0","x":42.6,"y":49430,"text":"π⁻p->nπ⁰, π⁰->2γ"},
{"g":"gamma","x":76.9,"y":28140,"text":"π⁻p->nγ"},
{"g":"dt","x":34.6,"y":10020,"text":"~30ns"},
{"g":"axis","x":-7.8,"y":61900,"text":"Qsum"},
{"g":"title","x":103.9,"y":63020,"text":"E(NaI)>100MeV"}
]
},
"layer":[
{"data":{"name":"pts"},
 "mark":{"type":"point","shape":"square","filled":true,"size":3,"color":"#000","opacity":1},
 "encoding":{
  "x":{"field":"x","type":"quantitative","scale":{"domain":[0,103.9],"nice":false,"zero":false},
   "axis":{"values":[0,20,40,60,80,100],"format":"d","grid":false,"domainColor":"#222","domainWidth":2,"tickColor":"#222","tickWidth":2,"tickSize":-17,"labelFont":"Liberation Sans","labelFontSize":25,"labelFontWeight":"bold","labelColor":"#000","labelPadding":25,"labelFlush":false,"labelOverlap":false,"title":"LP Xe TDC timing (ns)","titleFont":"Liberation Sans","titleFontSize":48,"titleFontWeight":"normal","titleColor":"#0000ff","titleAlign":"right","titleX":732,"titleY":90,"titleBaseline":"alphabetic"}},
  "y":{"field":"y","type":"quantitative","scale":{"domain":[0,62000],"nice":false,"zero":false},
   "axis":{"values":[0,10000,20000,30000,40000,50000,60000],"format":"d","grid":false,"domainColor":"#222","domainWidth":2,"tickColor":"#222","tickWidth":2,"tickSize":-23,"labelFont":"Liberation Sans","labelFontSize":25,"labelFontWeight":"bold","labelColor":"#000","labelPadding":28,"labelFlush":false,"labelOverlap":false,"title":"LP Xe total charge","titleFont":"Liberation Sans","titleFontSize":44,"titleFontWeight":"normal","titleColor":"#0000ff","titleAngle":270,"titleAlign":"center","titleX":-101,"titleY":196,"titleBaseline":"alphabetic"}}
 }},
{"data":{"name":"core"},
 "mark":{"type":"point","shape":"square","filled":true,"size":20,"color":"#000","opacity":1},
 "encoding":{
  "x":{"field":"x","type":"quantitative","axis":{"values":[5,10,15,25,30,35,45,50,55,65,70,75,85,90,95],"labels":false,"domain":false,"grid":false,"tickColor":"#222","tickWidth":2,"tickSize":-8,"title":null}},
  "y":{"field":"y","type":"quantitative","axis":{"values":[2000,4000,6000,8000,12000,14000,16000,18000,22000,24000,26000,28000,32000,34000,36000,38000,42000,44000,46000,48000,52000,54000,56000,58000],"labels":false,"domain":false,"grid":false,"tickColor":"#222","tickWidth":2,"tickSize":-10,"title":null}}}},
{"data":{"name":"circ"},
 "mark":{"type":"point","shape":"circle","filled":false,"size":7921,"stroke":"#0000ff","strokeWidth":4,"opacity":1},
 "encoding":{"x":{"field":"x","type":"quantitative","axis":null},"y":{"field":"y","type":"quantitative","axis":null}}},
{"data":{"name":"arrows"},"transform":[{"filter":"datum.g === 'pi0'"}],
 "mark":{"type":"rule","color":"#0000ff","strokeWidth":4,"strokeCap":"round"},
 "encoding":{"x":{"field":"x","type":"quantitative","axis":null},"y":{"field":"y","type":"quantitative","axis":null},"x2":{"field":"x2"},"y2":{"field":"y2"}}},
{"data":{"name":"arrows"},"transform":[{"filter":"datum.g === 'gamma'"}],
 "mark":{"type":"rule","color":"#ff0000","strokeWidth":4.5,"strokeCap":"butt"},
 "encoding":{"x":{"field":"x","type":"quantitative","axis":null},"y":{"field":"y","type":"quantitative","axis":null},"x2":{"field":"x2"},"y2":{"field":"y2"}}},
{"data":{"name":"arrows"},"transform":[{"filter":"datum.g === 'dt'"}],
 "mark":{"type":"rule","color":"#3a8a36","strokeWidth":3.5,"strokeCap":"round"},
 "encoding":{"x":{"field":"x","type":"quantitative","axis":null},"y":{"field":"y","type":"quantitative","axis":null},"x2":{"field":"x2"},"y2":{"field":"y2"}}},
{"data":{"name":"heads"},"transform":[{"filter":"datum.g === 'pi0'"}],
 "mark":{"type":"point","shape":"M0,0L-0.8,1.5L0.8,1.5Z","filled":true,"size":400,"color":"#0000ff","opacity":1},
 "encoding":{"x":{"field":"x","type":"quantitative","axis":null},"y":{"field":"y","type":"quantitative","axis":null},"angle":{"field":"deg","type":"quantitative","scale":null}}},
{"data":{"name":"heads"},"transform":[{"filter":"datum.g === 'gamma'"}],
 "mark":{"type":"point","shape":"M0,0L-0.75,1.7L0.75,1.7Z","filled":true,"size":440,"color":"#ff0000","opacity":1},
 "encoding":{"x":{"field":"x","type":"quantitative","axis":null},"y":{"field":"y","type":"quantitative","axis":null},"angle":{"field":"deg","type":"quantitative","scale":null}}},
{"data":{"name":"labels"},"transform":[{"filter":"datum.g === 'pi0'"}],
 "mark":{"type":"text","align":"left","baseline":"alphabetic","font":"Liberation Sans","fontSize":47,"color":"#0000ff"},
 "encoding":{"x":{"field":"x","type":"quantitative","axis":null},"y":{"field":"y","type":"quantitative","axis":null},"text":{"field":"text"}}},
{"data":{"name":"labels"},"transform":[{"filter":"datum.g === 'gamma'"}],
 "mark":{"type":"text","align":"left","baseline":"alphabetic","font":"Liberation Sans","fontSize":48,"color":"#ff0000"},
 "encoding":{"x":{"field":"x","type":"quantitative","axis":null},"y":{"field":"y","type":"quantitative","axis":null},"text":{"field":"text"}}},
{"data":{"name":"labels"},"transform":[{"filter":"datum.g === 'dt'"}],
 "mark":{"type":"text","align":"left","baseline":"alphabetic","font":"Liberation Sans","fontSize":45,"color":"#14a014"},
 "encoding":{"x":{"field":"x","type":"quantitative","axis":null},"y":{"field":"y","type":"quantitative","axis":null},"text":{"field":"text"}}},
{"data":{"name":"labels"},"transform":[{"filter":"datum.g === 'axis'"}],
 "mark":{"type":"text","align":"right","baseline":"alphabetic","angle":270,"font":"Liberation Sans","fontSize":24,"fontWeight":"bold","color":"#000"},
 "encoding":{"x":{"field":"x","type":"quantitative","axis":null},"y":{"field":"y","type":"quantitative","axis":null},"text":{"field":"text"}}},
{"data":{"name":"labels"},"transform":[{"filter":"datum.g === 'title'"}],
 "mark":{"type":"text","align":"right","baseline":"alphabetic","font":"Liberation Sans","fontSize":47,"color":"#000"},
 "encoding":{"x":{"field":"x","type":"quantitative","axis":null},"y":{"field":"y","type":"quantitative","axis":null},"text":{"field":"text"}}}
]
}
